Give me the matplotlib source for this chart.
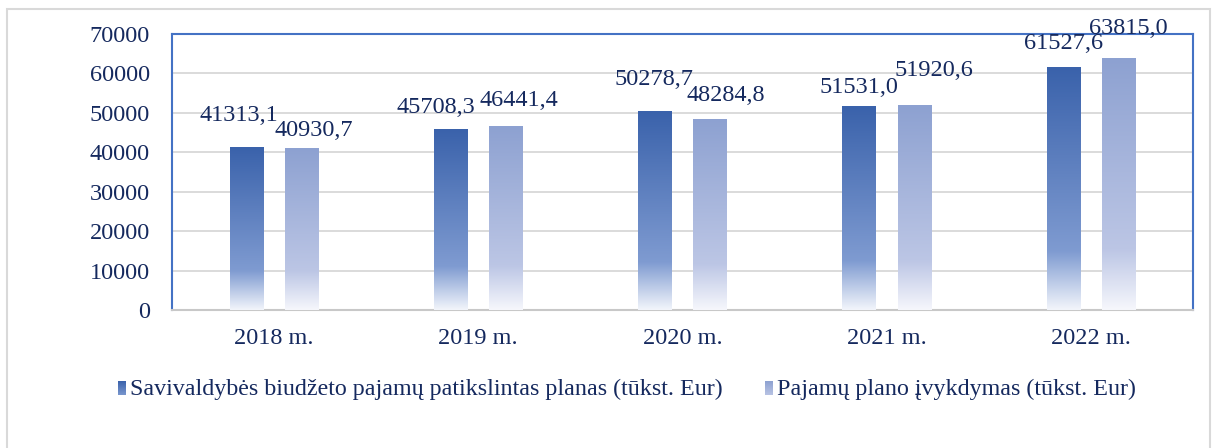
import numpy as np
import matplotlib.pyplot as plt
from matplotlib.colors import LinearSegmentedColormap
from matplotlib.patches import Rectangle

years = ['2018 m.', '2019 m.', '2020 m.', '2021 m.', '2022 m.']
planas = [41313.1, 45708.3, 50278.7, 51531.0, 61527.6]
ivykdymas = [40930.7, 46441.4, 48284.8, 51920.6, 63815.0]
series_names = ['Savivaldybės biudžeto pajamų patikslintas planas (tūkst. Eur)',
                'Pajamų plano įvykdymas (tūkst. Eur)']

# label offsets in pixels (dx, dy above bar top)
off_planas = [(-8, 32), (-15, 22), (-1, 32), (0, 19), (0, 24)]
off_ivyk = [(12, 18), (13, 26), (16, 24), (20, 35), (10, 30)]

txt = '#15295e'
plt.rcParams['font.family'] = ['Liberation Serif', 'DejaVu Serif']

fig = plt.figure(figsize=(12.17, 4.48), dpi=100)
W, H = 1217, 448
ax = fig.add_axes([172 / W, 1 - 310 / H, 1021 / W, 276 / H])

cm_dark = LinearSegmentedColormap.from_list(
    'd', [(0, '#f2f5fb'), (0.24, '#7f9bd1'), (1, '#3a62ab')])
cm_light = LinearSegmentedColormap.from_list(
    'l', [(0, '#f6f7fc'), (0.24, '#bcc6e5'), (1, '#8da1d1')])
grad = np.linspace(0, 1, 256).reshape(-1, 1)

x = np.arange(len(years))
bw = 0.163
shift = 0.135


def gbar(xc, h, cmap):
    ax.imshow(grad, cmap=cmap, origin='lower', aspect='auto',
              extent=[xc - bw / 2, xc + bw / 2, 0, h], zorder=3)


for i in range(len(years)):
    gbar(x[i] - shift, planas[i], cm_dark)
    gbar(x[i] + shift, ivykdymas[i], cm_light)
    for xc, v, off in [(x[i] - shift, planas[i], off_planas[i]),
                       (x[i] + shift, ivykdymas[i], off_ivyk[i])]:
        ax.annotate(f'{v:.1f}'.replace('.', ','), (xc, v),
                    xytext=(off[0] * 0.72, off[1] * 0.72), textcoords='offset points',
                    ha='center', va='center', fontsize=17.5, color=txt, zorder=5)

ax.set_xlim(-0.5, len(years) - 0.5)
ax.set_ylim(0, 70000)
ax.set_yticks(np.arange(0, 70001, 10000))
ax.set_yticklabels([str(v) for v in range(0, 70001, 10000)], fontsize=17.5, color=txt)
ax.set_xticks(x)
ax.set_xticklabels(years, fontsize=17.5, color=txt)
ax.tick_params(length=0)
ax.tick_params(axis='y', pad=16)
ax.tick_params(axis='x', pad=13)
ax.grid(axis='y', color='#d4d4d4', lw=1.2, zorder=0)
ax.set_axisbelow(True)
for s in ['left', 'top', 'right']:
    ax.spines[s].set_color('#4472c4')
    ax.spines[s].set_linewidth(1.5)
ax.spines['bottom'].set_color('#c8c8c8')
ax.spines['bottom'].set_linewidth(1.5)

# legend with little gradient squares
lax = fig.add_axes([0, 0, 1, 1], facecolor='none')
lax.set_xlim(0, W)
lax.set_ylim(H, 0)
lax.axis('off')
for mx, cmap, name in [(118, cm_dark, series_names[0]), (765, cm_light, series_names[1])]:
    lax.imshow(grad[::-1] * 0.7 + 0.3, cmap=cmap, vmin=0, vmax=1, aspect='auto',
               extent=[mx, mx + 8, 395, 381])
    lax.text(mx + 12, 389, name, fontsize=17.3, color=txt, va='center', ha='left')

fig.patches.append(Rectangle((7 / W, -0.1), 1203 / W, 1.1 - 9 / H,
                             transform=fig.transFigure, fill=False,
                             edgecolor='#d9d9d9', lw=1.5))

fig.savefig('out.png', dpi=100)
